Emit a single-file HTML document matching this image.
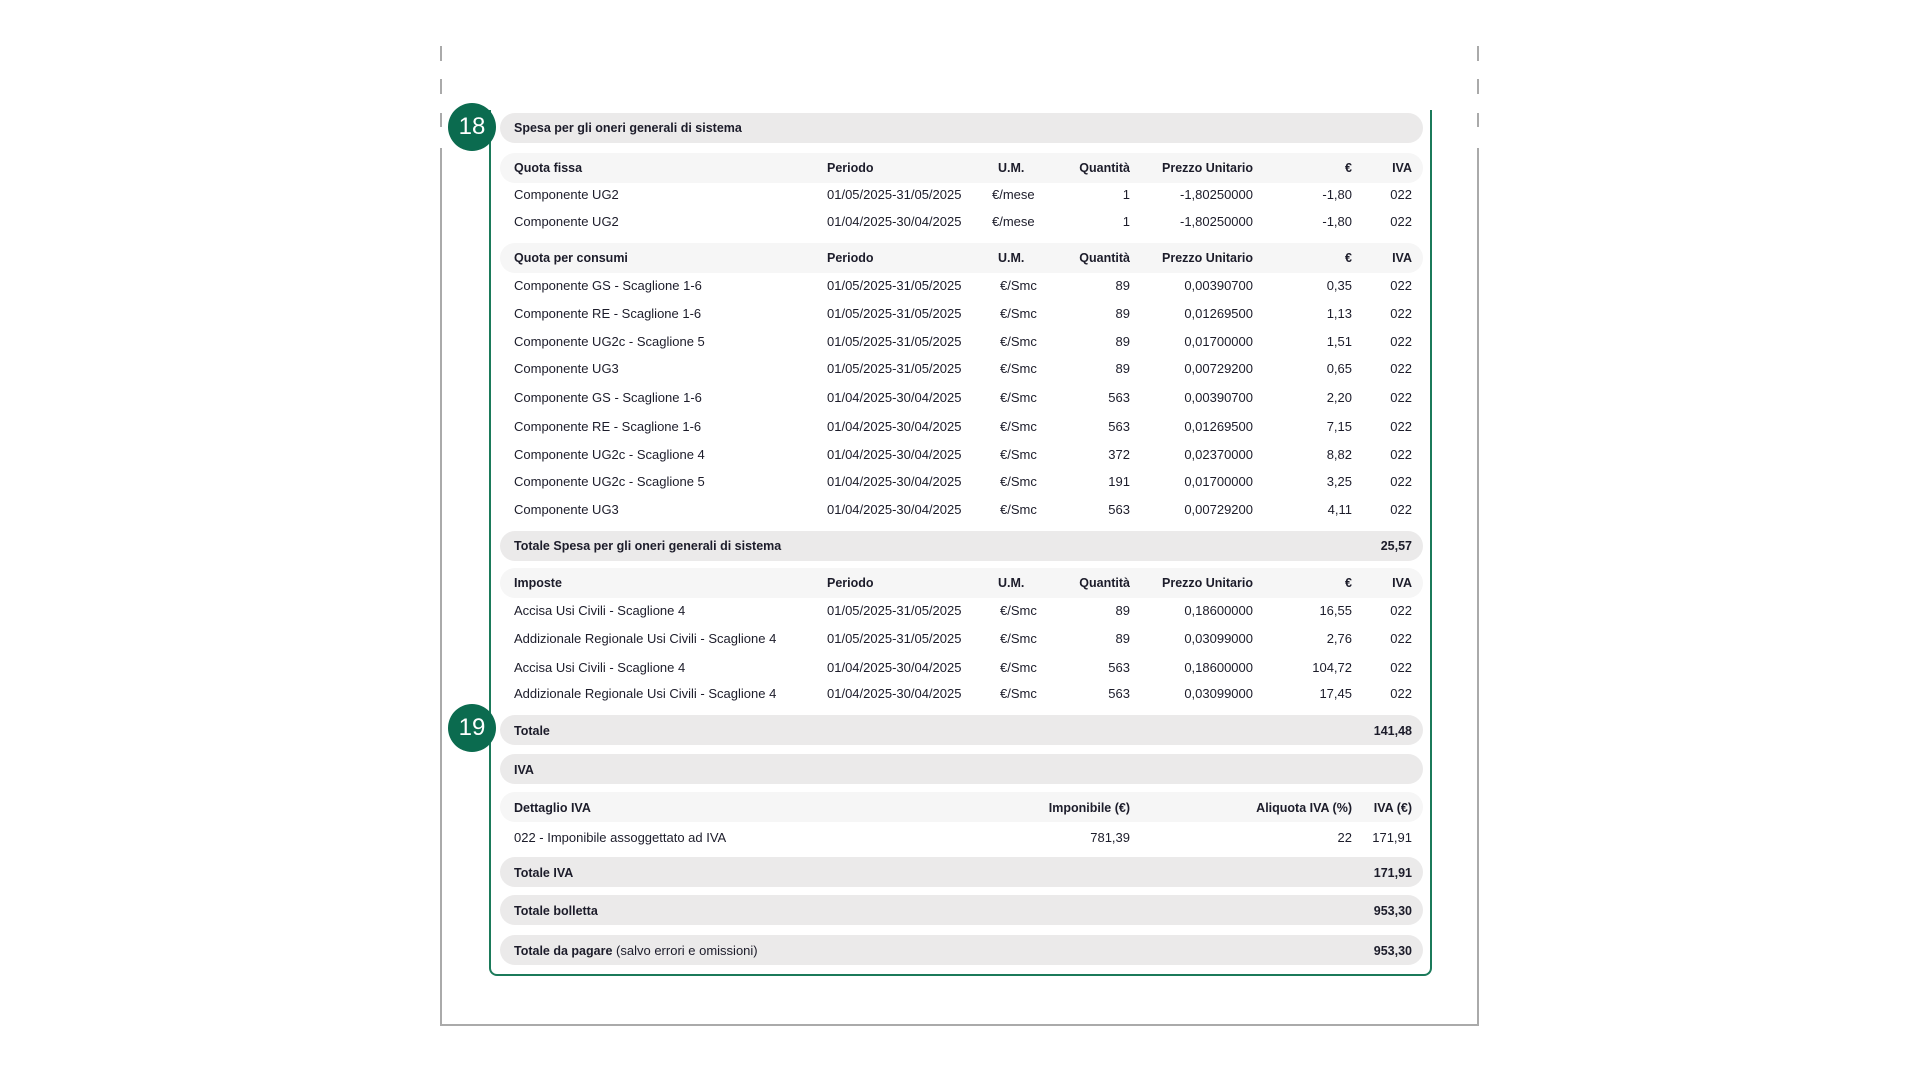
<!DOCTYPE html>
<html><head><meta charset="utf-8"><style>
body{margin:0;width:1920px;height:1080px;background:#fff;position:relative;overflow:hidden;font-family:"Liberation Sans",sans-serif;font-size:13px;color:#1c1c2a}
.r{position:absolute;left:0;width:1920px;height:20px;line-height:20px;margin-top:1px}
.r span{position:absolute;white-space:nowrap}
.c1{left:514px}.c2{left:827px}.c3{left:992px}
.c4{right:790px}.c5{right:667px}.c6{right:568px}.c7{right:508px}
.um{left:1000px}
.b{font-weight:bold;font-size:12.5px}
.bar{position:absolute;left:500px;width:923px;height:30px;border-radius:15px;background:#ebeaea}
.sub{position:absolute;left:500px;width:923px;height:30px;border-radius:15px;background:#f6f6f6}
.circ{position:absolute;width:48px;height:48px;border-radius:50%;background:#0b6b4f;color:#fff;font-size:24px;line-height:48px;text-align:center}
.vl{position:absolute;width:2px;background:#aaa}
</style></head><body>
<div class="vl" style="left:440px;top:46px;height:15px"></div>
<div class="vl" style="left:440px;top:79px;height:15px"></div>
<div class="vl" style="left:440px;top:113px;height:14px"></div>
<div class="vl" style="left:440px;top:148px;height:877px"></div>
<div class="vl" style="left:1477px;top:46px;height:15px"></div>
<div class="vl" style="left:1477px;top:79px;height:15px"></div>
<div class="vl" style="left:1477px;top:113px;height:14px"></div>
<div class="vl" style="left:1477px;top:148px;height:877px"></div>
<div style="position:absolute;left:440px;top:1024px;width:1039px;height:2px;background:#aaa"></div>
<div style="position:absolute;left:489px;top:110px;width:939px;height:864px;border:2px solid #1b7a5a;border-top:none;border-radius:0 0 8px 8px"></div>

<div class="bar" style="top:113px"></div>
<div class="sub" style="top:153px"></div>
<div class="sub" style="top:243px"></div>
<div class="bar" style="top:531px"></div>
<div class="sub" style="top:568px"></div>
<div class="bar" style="top:715px"></div>
<div class="bar" style="top:754px"></div>
<div class="sub" style="top:792px"></div>
<div class="bar" style="top:857px"></div>
<div class="bar" style="top:895px"></div>
<div class="bar" style="top:935px"></div>

<div class="circ" style="left:448px;top:103px">18</div>
<div class="circ" style="left:448px;top:704px">19</div>

<div class="r" style="top:117px"><span class="c1 b">Spesa per gli oneri generali di sistema</span></div>

<div class="r" style="top:157px"><span class="c1 b">Quota fissa</span><span class="c2 b">Periodo</span><span class="c3 b" style="left:998px">U.M.</span><span class="c4 b">Quantità</span><span class="c5 b">Prezzo Unitario</span><span class="c6 b">€</span><span class="c7 b">IVA</span></div>
<div class="r" style="top:184px"><span class="c1">Componente UG2</span><span class="c2">01/05/2025-31/05/2025</span><span class="c3">€/mese</span><span class="c4">1</span><span class="c5">-1,80250000</span><span class="c6">-1,80</span><span class="c7">022</span></div>
<div class="r" style="top:211px"><span class="c1">Componente UG2</span><span class="c2">01/04/2025-30/04/2025</span><span class="c3">€/mese</span><span class="c4">1</span><span class="c5">-1,80250000</span><span class="c6">-1,80</span><span class="c7">022</span></div>

<div class="r" style="top:247px"><span class="c1 b">Quota per consumi</span><span class="c2 b">Periodo</span><span class="c3 b" style="left:998px">U.M.</span><span class="c4 b">Quantità</span><span class="c5 b">Prezzo Unitario</span><span class="c6 b">€</span><span class="c7 b">IVA</span></div>
<div class="r" style="top:275px"><span class="c1">Componente GS - Scaglione 1-6</span><span class="c2">01/05/2025-31/05/2025</span><span class="um">€/Smc</span><span class="c4">89</span><span class="c5">0,00390700</span><span class="c6">0,35</span><span class="c7">022</span></div>
<div class="r" style="top:303px"><span class="c1">Componente RE - Scaglione 1-6</span><span class="c2">01/05/2025-31/05/2025</span><span class="um">€/Smc</span><span class="c4">89</span><span class="c5">0,01269500</span><span class="c6">1,13</span><span class="c7">022</span></div>
<div class="r" style="top:331px"><span class="c1">Componente UG2c - Scaglione 5</span><span class="c2">01/05/2025-31/05/2025</span><span class="um">€/Smc</span><span class="c4">89</span><span class="c5">0,01700000</span><span class="c6">1,51</span><span class="c7">022</span></div>
<div class="r" style="top:358px"><span class="c1">Componente UG3</span><span class="c2">01/05/2025-31/05/2025</span><span class="um">€/Smc</span><span class="c4">89</span><span class="c5">0,00729200</span><span class="c6">0,65</span><span class="c7">022</span></div>
<div class="r" style="top:387px"><span class="c1">Componente GS - Scaglione 1-6</span><span class="c2">01/04/2025-30/04/2025</span><span class="um">€/Smc</span><span class="c4">563</span><span class="c5">0,00390700</span><span class="c6">2,20</span><span class="c7">022</span></div>
<div class="r" style="top:416px"><span class="c1">Componente RE - Scaglione 1-6</span><span class="c2">01/04/2025-30/04/2025</span><span class="um">€/Smc</span><span class="c4">563</span><span class="c5">0,01269500</span><span class="c6">7,15</span><span class="c7">022</span></div>
<div class="r" style="top:444px"><span class="c1">Componente UG2c - Scaglione 4</span><span class="c2">01/04/2025-30/04/2025</span><span class="um">€/Smc</span><span class="c4">372</span><span class="c5">0,02370000</span><span class="c6">8,82</span><span class="c7">022</span></div>
<div class="r" style="top:471px"><span class="c1">Componente UG2c - Scaglione 5</span><span class="c2">01/04/2025-30/04/2025</span><span class="um">€/Smc</span><span class="c4">191</span><span class="c5">0,01700000</span><span class="c6">3,25</span><span class="c7">022</span></div>
<div class="r" style="top:499px"><span class="c1">Componente UG3</span><span class="c2">01/04/2025-30/04/2025</span><span class="um">€/Smc</span><span class="c4">563</span><span class="c5">0,00729200</span><span class="c6">4,11</span><span class="c7">022</span></div>

<div class="r" style="top:535px"><span class="c1 b">Totale Spesa per gli oneri generali di sistema</span><span class="c7 b">25,57</span></div>

<div class="r" style="top:572px"><span class="c1 b">Imposte</span><span class="c2 b">Periodo</span><span class="c3 b" style="left:998px">U.M.</span><span class="c4 b">Quantità</span><span class="c5 b">Prezzo Unitario</span><span class="c6 b">€</span><span class="c7 b">IVA</span></div>
<div class="r" style="top:600px"><span class="c1">Accisa Usi Civili - Scaglione 4</span><span class="c2">01/05/2025-31/05/2025</span><span class="um">€/Smc</span><span class="c4">89</span><span class="c5">0,18600000</span><span class="c6">16,55</span><span class="c7">022</span></div>
<div class="r" style="top:628px"><span class="c1">Addizionale Regionale Usi Civili - Scaglione 4</span><span class="c2">01/05/2025-31/05/2025</span><span class="um">€/Smc</span><span class="c4">89</span><span class="c5">0,03099000</span><span class="c6">2,76</span><span class="c7">022</span></div>
<div class="r" style="top:657px"><span class="c1">Accisa Usi Civili - Scaglione 4</span><span class="c2">01/04/2025-30/04/2025</span><span class="um">€/Smc</span><span class="c4">563</span><span class="c5">0,18600000</span><span class="c6">104,72</span><span class="c7">022</span></div>
<div class="r" style="top:683px"><span class="c1">Addizionale Regionale Usi Civili - Scaglione 4</span><span class="c2">01/04/2025-30/04/2025</span><span class="um">€/Smc</span><span class="c4">563</span><span class="c5">0,03099000</span><span class="c6">17,45</span><span class="c7">022</span></div>

<div class="r" style="top:720px"><span class="c1 b">Totale</span><span class="c7 b">141,48</span></div>
<div class="r" style="top:759px"><span class="c1 b">IVA</span></div>
<div class="r" style="top:797px"><span class="c1 b">Dettaglio IVA</span><span class="c4 b">Imponibile (€)</span><span class="c6 b">Aliquota IVA (%)</span><span class="c7 b">IVA (€)</span></div>
<div class="r" style="top:827px"><span class="c1">022 - Imponibile assoggettato ad IVA</span><span class="c4">781,39</span><span class="c6">22</span><span class="c7">171,91</span></div>
<div class="r" style="top:862px"><span class="c1 b">Totale IVA</span><span class="c7 b">171,91</span></div>
<div class="r" style="top:900px"><span class="c1 b">Totale bolletta</span><span class="c7 b">953,30</span></div>
<div class="r" style="top:940px"><span class="c1"><b style="font-size:12.5px">Totale da pagare</b> (salvo errori e omissioni)</span><span class="c7 b">953,30</span></div>
</body></html>
